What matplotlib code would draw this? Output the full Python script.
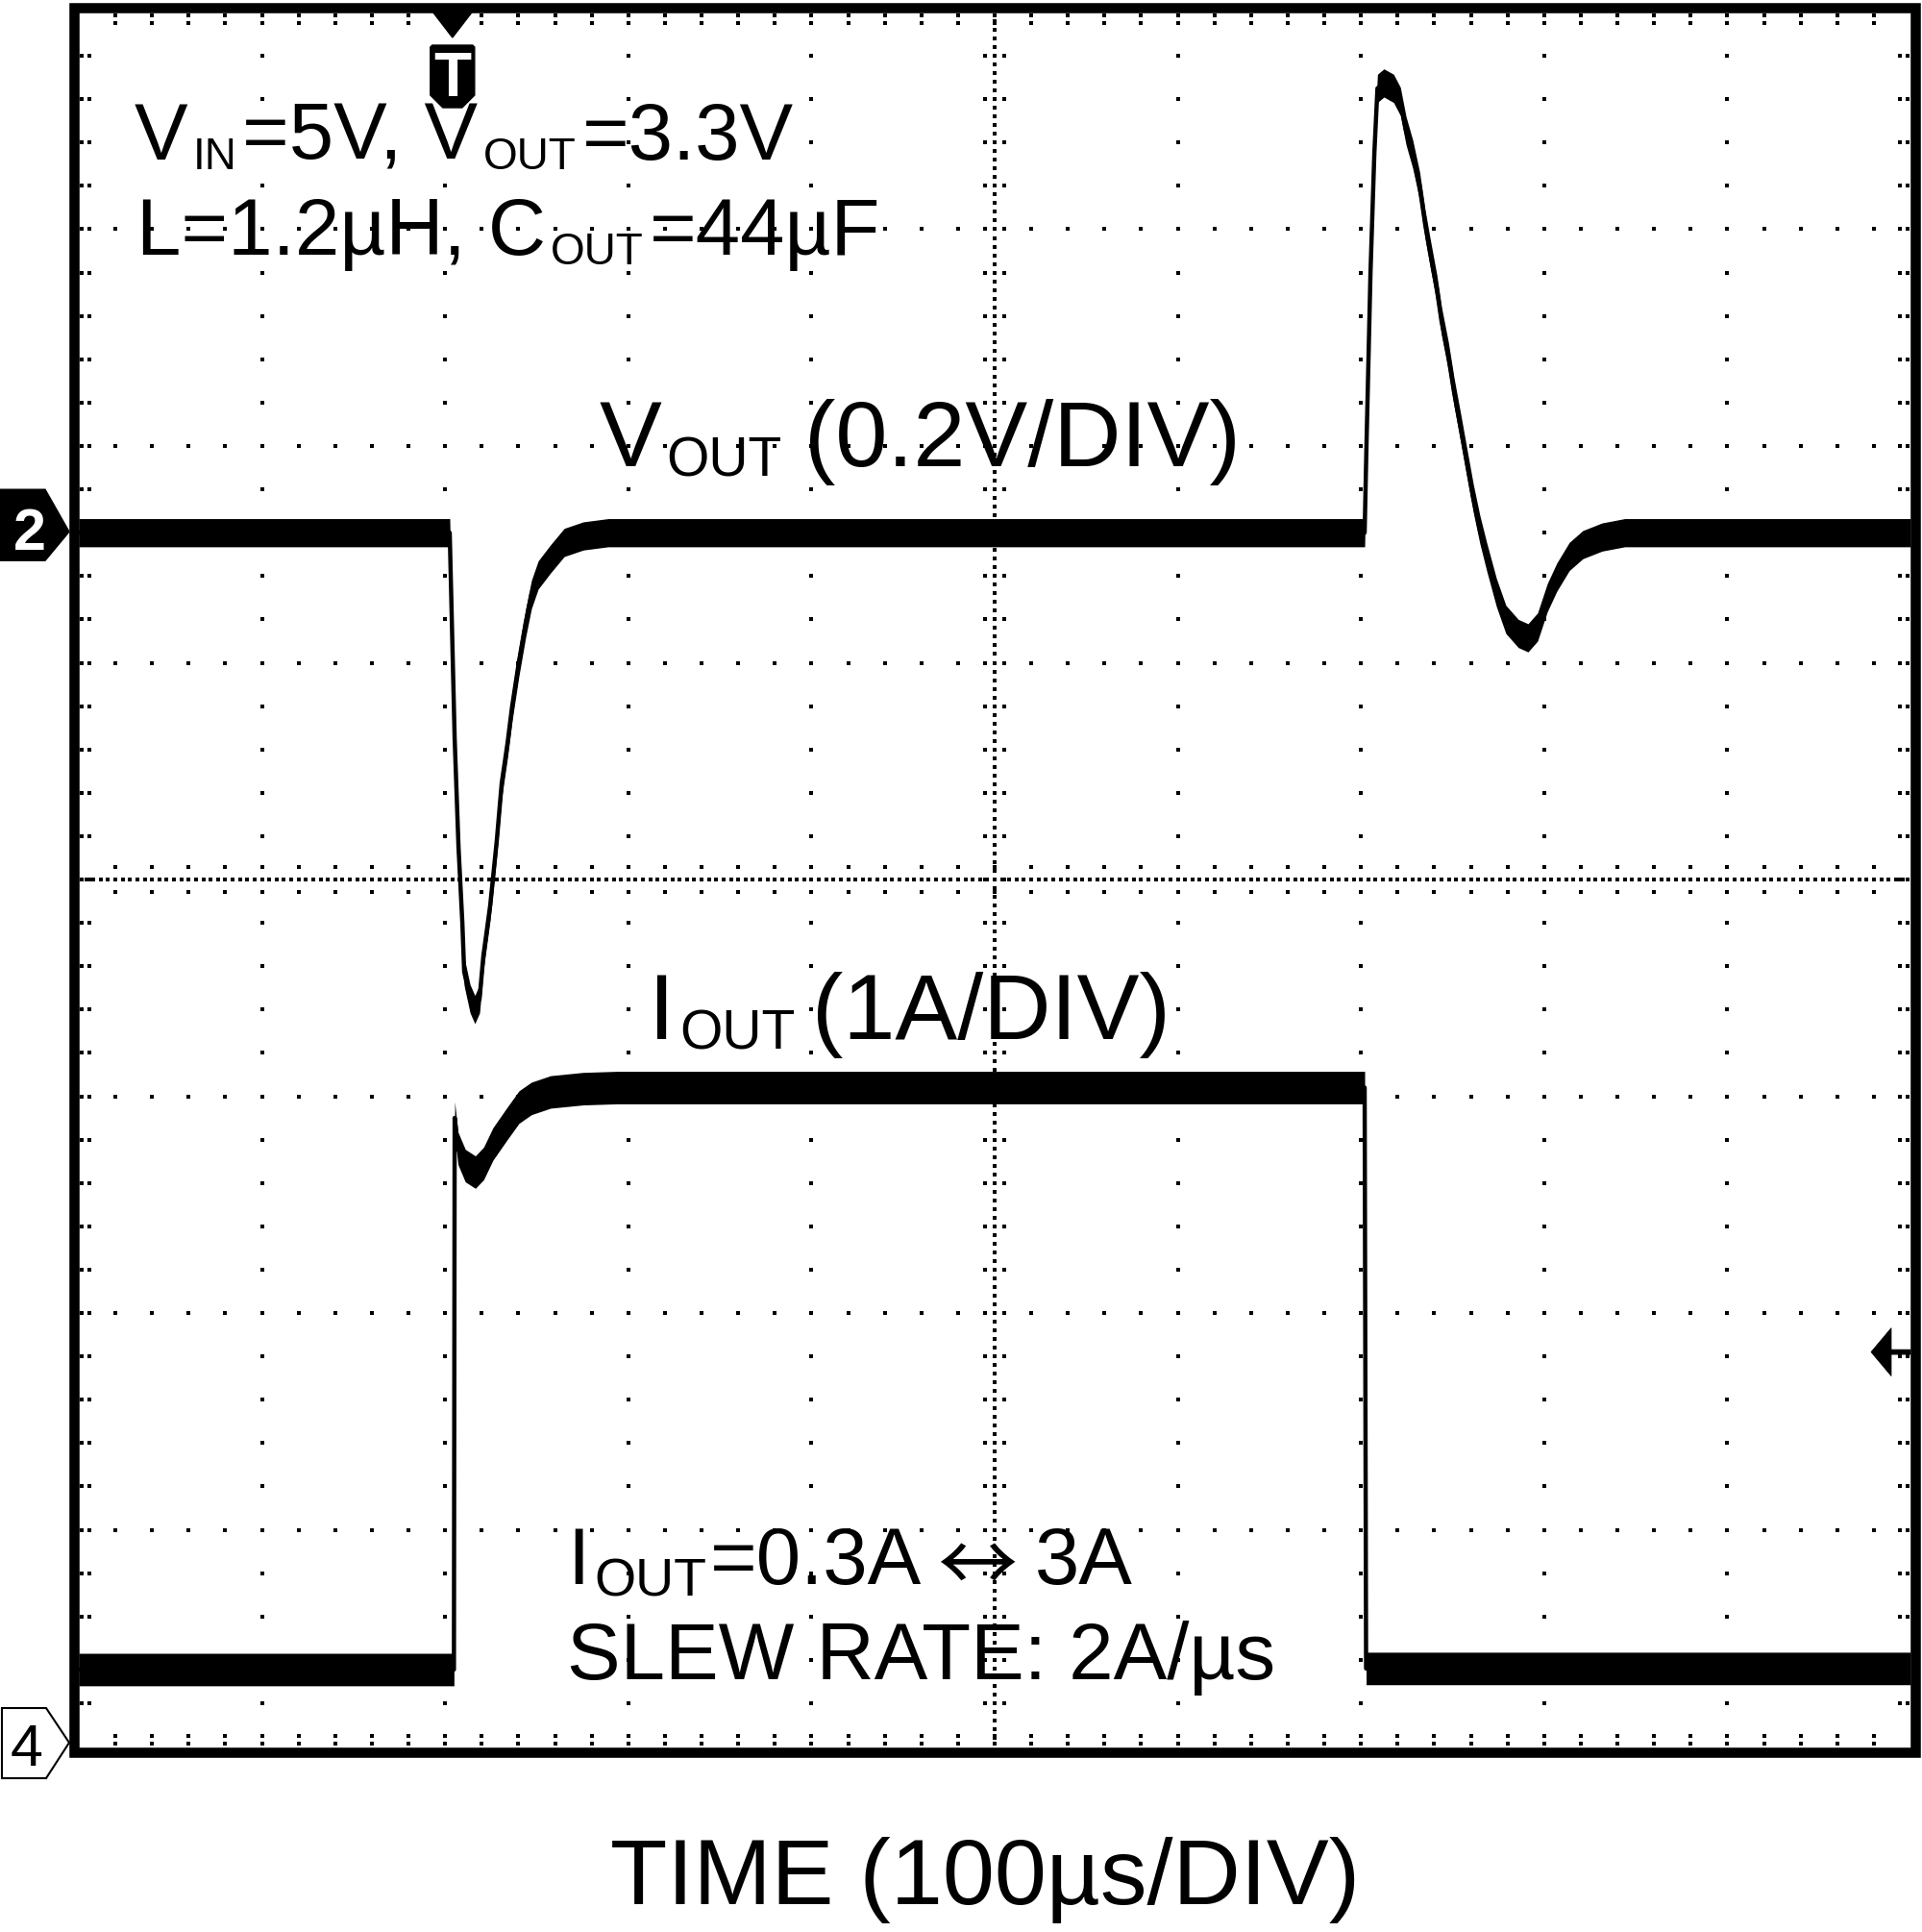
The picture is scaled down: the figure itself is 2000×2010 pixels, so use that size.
import matplotlib
matplotlib.use("Agg")
import matplotlib.pyplot as plt
from matplotlib.patches import Polygon, Rectangle
from matplotlib.transforms import IdentityTransform
import numpy as np

W, H = 2000, 2010
FAM = ["Liberation Sans", "DejaVu Sans"]
ARROW_FAM = ["Noto Sans CJK JP", "DejaVu Sans"]

# ---- scope settings ----
T_LEFT, T_RIGHT = -204, 796      # time window in us (trigger at 0, 100 us/div)
V_DIV = 0.2                      # channel 2, V per division
I_DIV = 1.0                      # channel 4, A per division
CH2_POS = 1.6                    # channel 2 ground, divisions from centre
CH4_POS = -4.0                   # channel 4 ground, divisions from centre
TRIG_LEVEL = 1.82                # A, on channel 4

# ---- channel 2: V_OUT deviation (V) vs time (us) ----
vout_t = [-204, -1.5, 1.2, 3.3, 5.4, 6.4, 9.6, 12.2, 14.8, 16.9, 20.6, 24.2, 26.9, 30.0,
          32.6, 36.3, 40.0, 43.1, 46.8, 53.6, 61.0, 71.4, 85.0,
          498.0, 499.0, 501.2, 503.3, 505.0, 508.5, 513.8, 517.5, 520.6, 524.3, 528.0,
          531.1, 533.8, 537.4, 540.0, 543.7, 546.8, 550.5, 554.1, 557.3, 560.9, 564.6,
          569.9, 575.1, 581.9, 587.2, 592.4, 597.7, 602.9, 609.7, 617.1, 627.6, 640.0, 796]
vout_dv = [0.0, 0.0, -0.19, -0.29, -0.36, -0.405, -0.43, -0.44, -0.43, -0.39, -0.344, -0.284, -0.231, -0.195,
           -0.16, -0.119, -0.083, -0.057, -0.039, -0.024, -0.009, -0.003, 0.0,
           0.0, 0.08, 0.24, 0.35, 0.41, 0.415, 0.41, 0.398, 0.371, 0.349, 0.32,
           0.284, 0.258, 0.225, 0.195, 0.163, 0.13, 0.096, 0.062, 0.032, 0.003, -0.022,
           -0.055, -0.08, -0.093, -0.097, -0.087, -0.06, -0.041, -0.022, -0.011, -0.004, 0.0, 0.0]
V_NOISE = 0.013

# ---- channel 4: I_OUT (A) vs time (us) ----
iout_t = [-204, 0.8, 1.2, 3.0, 7.0, 12.5, 17.0, 22.1, 29.5, 36.3, 43.1, 53.6, 71.4, 90.0, 498.0, 498.8, 796]
iout_a = [0.355, 0.355, 2.90, 2.76, 2.68, 2.65, 2.69, 2.78, 2.87, 2.95, 2.99, 3.02, 3.035, 3.04, 3.04, 0.36, 0.36]
I_NOISE = 0.075

fig = plt.figure(figsize=(W / 100, H / 100), dpi=100)
ax = fig.add_axes([82 / W, 1 - 1817 / H, 1906 / W, 1804 / H])
ax.set_xlim(T_LEFT, T_RIGHT)
ax.set_ylim(-4, 4)
ax.axis("off")

dx = (T_RIGHT - T_LEFT) / 1906.0   # us per pixel
dy = 8 / 1804.0                    # div per pixel

# ---- graticule (dots) ----
maj_x = [T_LEFT + 100 * k for k in range(1, 10)]
maj_y = [-4 + j for j in range(1, 8)]
min_x = [T_LEFT + 20 * m for m in range(1, 50)]
min_y = [-4 + 0.2 * m for m in range(1, 40)]
cx, cy = T_LEFT + 500, 0.0

px, py = [], []
for x in maj_x:
    if x != cx:
        px += [x] * len(min_y); py += min_y
for y in maj_y:
    if y != cy:
        px += min_x; py += [y] * len(min_x)
# centre lines with fine dots and small ticks
fine_y = [-4 + 0.04 * m for m in range(1, 200)]
fine_x = [T_LEFT + 4 * m for m in range(1, 250)]
px += [cx] * len(fine_y); py += fine_y
px += fine_x; py += [cy] * len(fine_x)
for y in min_y:
    px += [cx - 10 * dx, cx + 10 * dx]; py += [y, y]
for x in min_x:
    px += [x, x]; py += [cy - 13 * dy, cy + 13 * dy]
# edge ticks
for x in min_x:
    for off in (3.5, 11):
        px += [x, x]; py += [4 - off * dy, -4 + off * dy]
for y in min_y:
    for off in (3.5, 11):
        px += [T_LEFT + off * dx, T_RIGHT - off * dx]; py += [y, y]
ax.scatter(px, py, marker="s", s=7.5, linewidths=0, color="black", zorder=1)

# ---- traces ----
v = CH2_POS + np.array(vout_dv) / V_DIV
ax.fill_between(vout_t, v - V_NOISE / V_DIV, v + V_NOISE / V_DIV, color="black", lw=0, zorder=3)
ax.plot(vout_t, v, color="black", lw=3.2, zorder=3)

i = CH4_POS + np.array(iout_a) / I_DIV
ax.fill_between(iout_t, i - I_NOISE / I_DIV, i + I_NOISE / I_DIV, color="black", lw=0, zorder=3)
ax.plot(iout_t, i, color="black", lw=3.2, zorder=3)

# ---- frame ----
fig.add_artist(Rectangle((76.5 / W, 1 - 1822.5 / H), 1916 / W, 1814.5 / H,
                         transform=fig.transFigure, fill=False, lw=7.6, ec="black", zorder=10))


# helpers in pixel coords, y measured from the top
def anchor(x, y):
    a, b = ax.transData.transform((x, y))
    return a, H - b


def shape(ancr, verts, **kw):
    x0, y0 = ancr
    pts = [(x0 + u, H - (y0 + w)) for u, w in verts]
    fig.add_artist(Polygon(pts, closed=True, transform=IdentityTransform(), zorder=11, **kw))


def label(x, y, s, **kw):
    fig.text(x / W, 1 - y / H, s, family=FAM, **kw)


# channel 2 marker
a2 = anchor(T_LEFT, CH2_POS)
shape(a2, [(-82, -45), (-35, -45), (-10, -1), (-35, 29), (-82, 29)], fc="black", ec="black", lw=1)
label(a2[0] - 51, a2[1] + 18, "2", fontsize=44, fontweight="bold", color="white",
      ha="center", va="baseline", zorder=12)

# channel 4 marker
a4 = anchor(T_LEFT, CH4_POS)
shape(a4, [(-80, -40), (-34, -40), (-10, -4), (-34, 33), (-80, 33)], fc="white", ec="black", lw=1.5)
label(a4[0] - 54, a4[1] + 20, "4", fontsize=44, color="black", ha="center", va="baseline", zorder=12)

# trigger position marker
at = anchor(0, 4)
shape(at, [(-20, 0), (20, 0), (0, 26)], fc="black", ec="black", lw=1)
shape(at, [(-23, 36), (-21, 34), (21, 34), (23, 36), (23, 86), (10, 99), (-10, 99), (-23, 86)],
      fc="black", ec="black", lw=1)
label(at[0], at[1] + 87, "T", fontsize=46, fontweight="bold", color="white",
      ha="center", va="baseline", zorder=12)

# trigger level marker
al = anchor(T_RIGHT, CH4_POS + TRIG_LEVEL / I_DIV)
shape(al, [(-41, 0), (-20, -25), (-20, -2.5), (0, -2.5), (0, 2.5), (-20, 2.5), (-20, 25)],
      fc="black", ec="black", lw=0.5)

# ---- text with subscripts ----
rend = fig.canvas.get_renderer()


def rich(x, y, parts):
    # parts: (text, fontsize, baseline drop px, family, gap after px)
    for s, size, drop, fam, gap in parts:
        t = fig.text(x / W, 1 - (y + drop) / H, s, family=fam, fontsize=size,
                     ha="left", va="baseline", zorder=12)
        x += t.get_window_extent(rend).width + gap


rich(140, 166, [("V", 60, 0, FAM, 5), ("IN", 33, 10, FAM, 6), ("=5V, V", 60, 0, FAM, 5),
                ("OUT", 33, 10, FAM, 6), ("=3.3V", 60, 0, FAM, 0)])
rich(142, 265, [("L=1.2µH, C", 60, 0, FAM, 5), ("OUT", 33, 10, FAM, 6), ("=44µF", 60, 0, FAM, 0)])
rich(624, 485, [("V", 70, 0, FAM, 4), ("OUT", 41, 10, FAM, 24), ("(0.2V/DIV)", 70, 0, FAM, 0)])
rich(675, 1081, [("I", 70, 0, FAM, 5), ("OUT", 41, 10, FAM, 18), ("(1A/DIV)", 70, 0, FAM, 0)])
rich(590, 1648, [("I", 60, 0, FAM, 5), ("OUT", 40, 12, FAM, 4), ("=0.3A", 60, 0, FAM, 16),
                 ("↔", 60, 8, ARROW_FAM, 18), ("3A", 60, 0, FAM, 0)])
rich(590, 1747, [("SLEW RATE: 2A/µs", 60, 0, FAM, 0)])
label(1025, 1981, "TIME (100µs/DIV)", fontsize=70, ha="center", va="baseline")

fig.savefig("out.png", dpi=100)
